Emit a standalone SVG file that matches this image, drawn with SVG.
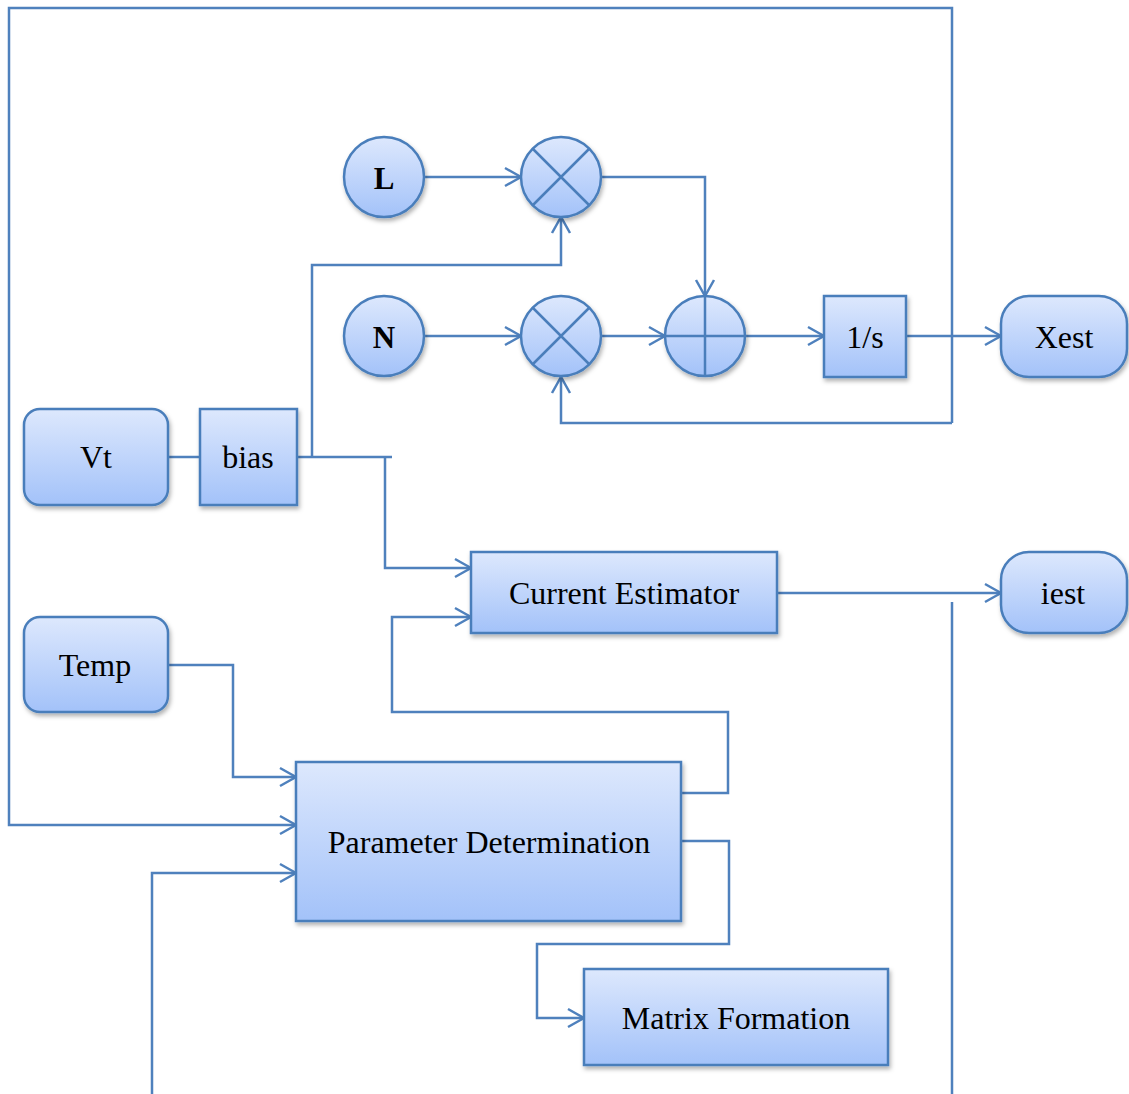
<svg xmlns="http://www.w3.org/2000/svg" width="1129" height="1094" viewBox="0 0 1129 1094">
<style>
.ln{fill:none;stroke:#4f81bd;stroke-width:2.5;stroke-linejoin:miter}
.nd{fill:url(#g);stroke:#4a7ebb;stroke-width:2.5;filter:url(#sh)}
.cr{fill:none;stroke:#4a7ebb;stroke-width:2.5}
.tx{font-family:"Liberation Serif","Times New Roman",serif;font-size:32px;fill:#000;text-anchor:middle;dominant-baseline:central}
.tx.bd{font-weight:bold;font-size:31px}
</style>
<defs>
<linearGradient id="g" x1="0" y1="0" x2="0" y2="1">
<stop offset="0" stop-color="#dde8fd"/>
<stop offset="1" stop-color="#a3c2f9"/>
</linearGradient>
<filter id="sh" x="-20%" y="-20%" width="140%" height="150%">
<feDropShadow dx="1.5" dy="3" stdDeviation="2" flood-color="#000" flood-opacity="0.3"/>
</filter>
<marker id="a" markerUnits="userSpaceOnUse" markerWidth="20" markerHeight="22" viewBox="0 0 20 22" refX="18" refY="11" orient="auto">
<path d="M2,2 L18,11 L2,20" fill="none" stroke="#4f81bd" stroke-width="2.5"/>
</marker>
</defs>
<g id="connectors">
<polyline class="ln" points="952,423 952,8 9,8 9,825 296,825" marker-end="url(#a)"/>
<polyline class="ln" points="952,423 561,423 561,377" marker-end="url(#a)"/>
<line class="ln" x1="952" y1="602" x2="952" y2="1094"/>
<polyline class="ln" points="152,1094 152,873 296,873" marker-end="url(#a)"/>
<line class="ln" x1="424" y1="177" x2="521" y2="177" marker-end="url(#a)"/>
<polyline class="ln" points="601,177 705,177 705,296" marker-end="url(#a)"/>
<line class="ln" x1="424" y1="336" x2="521" y2="336" marker-end="url(#a)"/>
<line class="ln" x1="601" y1="336" x2="665" y2="336" marker-end="url(#a)"/>
<line class="ln" x1="745" y1="336" x2="824" y2="336" marker-end="url(#a)"/>
<line class="ln" x1="906" y1="336" x2="1001" y2="336" marker-end="url(#a)"/>
<line class="ln" x1="168" y1="457" x2="200" y2="457"/>
<line class="ln" x1="297" y1="457" x2="392" y2="457"/>
<polyline class="ln" points="312,457 312,265 561,265 561,217" marker-end="url(#a)"/>
<polyline class="ln" points="385,457 385,568 471,568" marker-end="url(#a)"/>
<line class="ln" x1="777" y1="593" x2="1001" y2="593" marker-end="url(#a)"/>
<polyline class="ln" points="681,793 728,793 728,712 392,712 392,617 471,617" marker-end="url(#a)"/>
<polyline class="ln" points="168,665 233,665 233,777 296,777" marker-end="url(#a)"/>
<polyline class="ln" points="681,841 729,841 729,944 537,944 537,1018 584,1018" marker-end="url(#a)"/>
</g>
<g id="L"><circle class="nd" cx="384" cy="177" r="40"/><text class="tx bd" x="384" y="178">L</text></g>
<g id="N"><circle class="nd" cx="384" cy="336" r="40"/><text class="tx bd" x="384" y="337">N</text></g>
<g id="mult1"><circle class="nd" cx="561" cy="177" r="40"/><path class="cr" d="M533,149 L589,205 M589,149 L533,205"/></g>
<g id="mult2"><circle class="nd" cx="561" cy="336" r="40"/><path class="cr" d="M533,308 L589,364 M589,308 L533,364"/></g>
<g id="sum"><circle class="nd" cx="705" cy="336" r="40"/><path class="cr" d="M665,336 L745,336 M705,296 L705,376"/></g>
<g id="integrator"><rect class="nd" x="824" y="296" width="82" height="81"/><text class="tx" x="865" y="337">1/s</text></g>
<g id="Xest"><rect class="nd" x="1001" y="296" width="126" height="81" rx="28"/><text class="tx" x="1064" y="337">Xest</text></g>
<g id="iest"><rect class="nd" x="1001" y="552" width="126" height="81" rx="28"/><text class="tx" x="1063" y="593">iest</text></g>
<g id="Vt"><rect class="nd" x="24" y="409" width="144" height="96" rx="16"/><text class="tx" x="96" y="457">Vt</text></g>
<g id="bias"><rect class="nd" x="200" y="409" width="97" height="96"/><text class="tx" x="248" y="457">bias</text></g>
<g id="currentEstimator"><rect class="nd" x="471" y="552" width="306" height="81"/><text class="tx" x="624" y="593">Current Estimator</text></g>
<g id="Temp"><rect class="nd" x="24" y="617" width="144" height="95" rx="16"/><text class="tx" x="95" y="665">Temp</text></g>
<g id="parameterDetermination"><rect class="nd" x="296" y="762" width="385" height="159"/><text class="tx" x="489" y="842">Parameter Determination</text></g>
<g id="matrixFormation"><rect class="nd" x="584" y="969" width="304" height="96"/><text class="tx" x="736" y="1018">Matrix Formation</text></g>
</svg>
